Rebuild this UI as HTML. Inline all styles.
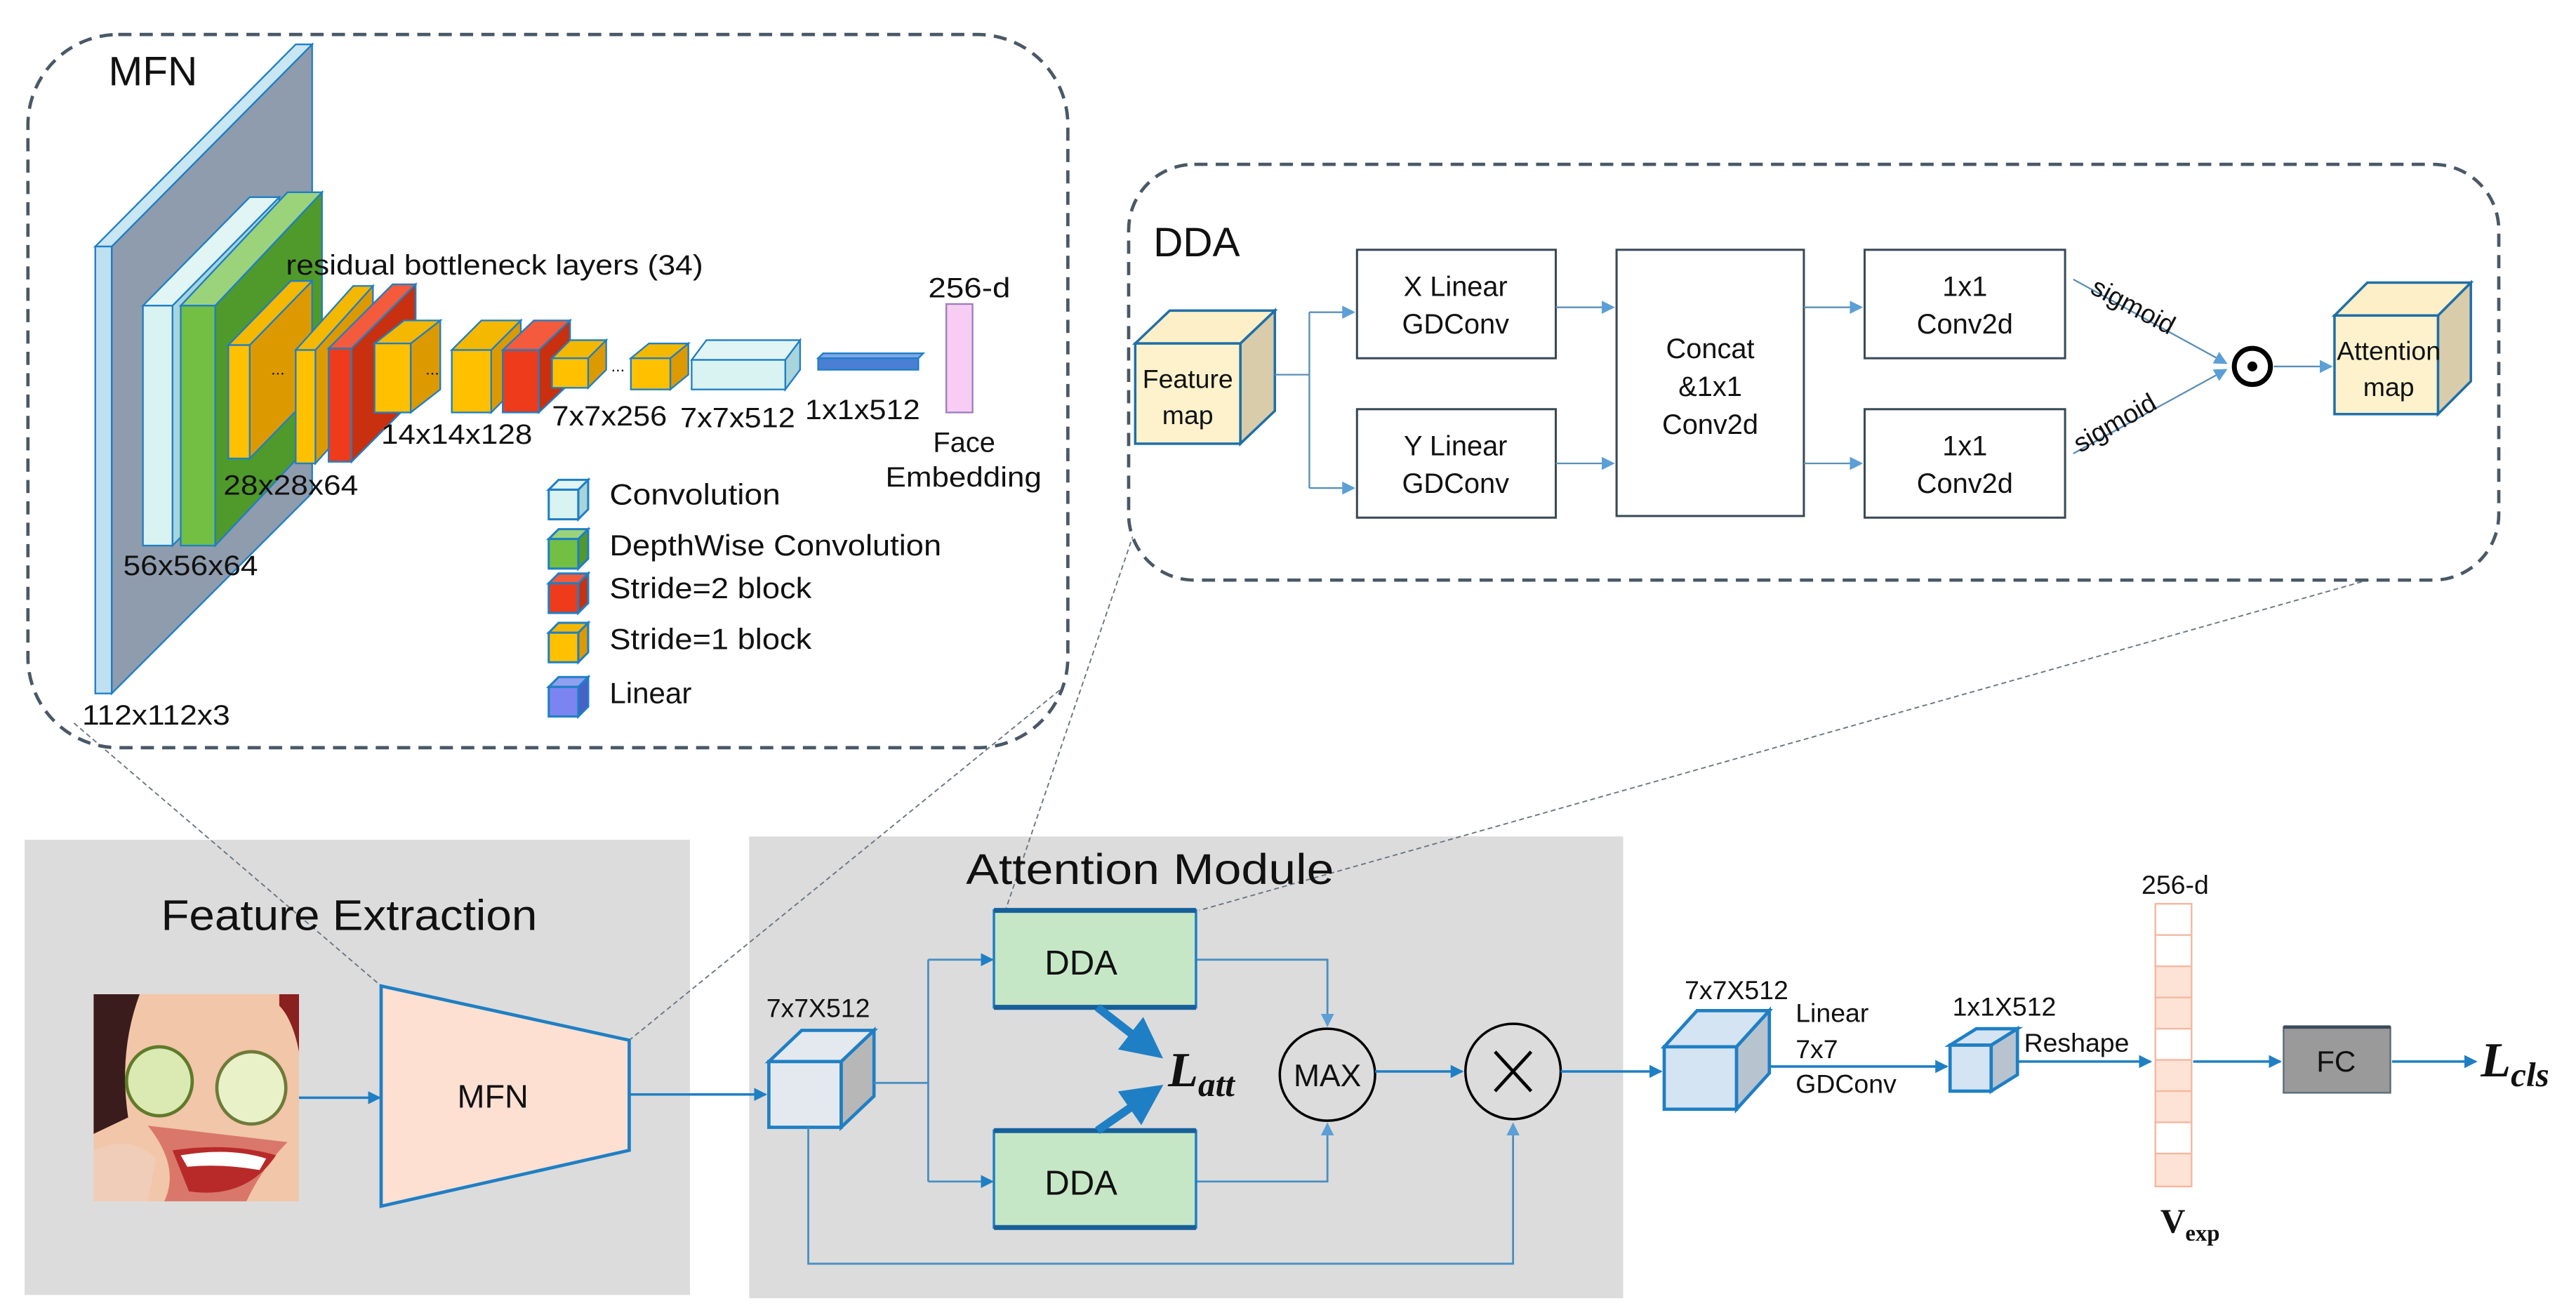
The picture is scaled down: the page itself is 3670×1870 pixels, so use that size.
<!DOCTYPE html>
<html><head><meta charset="utf-8"><style>
html,body{margin:0;padding:0;background:#fff;}
svg{display:block;}
text{font-family:"Liberation Sans","DejaVu Sans",sans-serif;fill:#111;}
text.serif{font-family:"Liberation Serif","DejaVu Serif",serif;}
</style></head><body>
<svg width="3670" height="1870" viewBox="0 0 1568 799" preserveAspectRatio="none" xmlns="http://www.w3.org/2000/svg">
<defs>
<marker id="ar" markerWidth="8" markerHeight="8" refX="7" refY="4" orient="auto" markerUnits="userSpaceOnUse"><path d="M0,0 L8,4 L0,8 Z" fill="#1f7fc4"/></marker>
<marker id="arl" markerWidth="8" markerHeight="8" refX="7" refY="4" orient="auto" markerUnits="userSpaceOnUse"><path d="M0,0 L8,4 L0,8 Z" fill="#5b9fd6"/></marker>
<marker id="arb" markerWidth="5" markerHeight="5" refX="4" refY="2.5" orient="auto"><path d="M0,0 L5,2.5 L0,5 Z" fill="#1f7fc4"/></marker>
</defs>
<rect width="1568" height="799" fill="#fff"/>

<rect x="15" y="511" width="405" height="277" fill="#dcdcdc"/>
<rect x="456" y="509" width="532" height="281" fill="#dcdcdc"/>

<g stroke="#6a7580" stroke-width="0.8" stroke-dasharray="3,2" fill="none">
<line x1="45" y1="440" x2="232" y2="600"/>
<line x1="645" y1="420" x2="383" y2="633"/>
<line x1="690" y1="325" x2="612" y2="554"/>
<line x1="1505" y1="335" x2="730" y2="554"/>
</g>

<rect x="17" y="21" width="633" height="434" rx="55" fill="none" stroke="#4a5866" stroke-width="2" stroke-dasharray="8,5"/>
<text x="66" y="52" font-size="25">MFN</text>

<g stroke="#1f7fc4" stroke-width="1">
<polygon points="68,150 190,27 190,300 68,422" fill="#8f9cad"/>
<polygon points="58,150 180,27 190,27 68,150" fill="#c9e6f3"/>
<rect x="58" y="150" width="10" height="272" fill="#bfe0f0"/>
<polygon points="105,186 170,120 170,266 105,332" fill="#a8d4dc"/>
<polygon points="87,186 152,120 170,120 105,186" fill="#e2f5f5"/>
<rect x="87" y="186" width="18" height="146" fill="#d9f2f2"/>
<polygon points="131,186 196,117 196,263 131,332" fill="#4f9a2a"/>
<polygon points="110,186 175,117 196,117 131,186" fill="#9bd37a"/>
<rect x="110" y="186" width="21" height="146" fill="#72bf44"/>
</g>
<g stroke="#1f7fc4" stroke-width="1">
<polygon points="152,210 190,171 190,240 152,279" fill="#dd9a00"/>
<polygon points="139,210 177,171 190,171 152,210" fill="#f5b800"/>
<rect x="139" y="210" width="13" height="69" fill="#ffc000"/>
<polygon points="192,213 227,174 227,243 192,282" fill="#dd9a00"/>
<polygon points="180,213 215,174 227,174 192,213" fill="#f5b800"/>
<rect x="180" y="213" width="12" height="69" fill="#ffc000"/>
<polygon points="214,212 253,173 253,242 214,281" fill="#c8300f"/>
<polygon points="200,212 239,173 253,173 214,212" fill="#f45a3c"/>
<rect x="200" y="212" width="14" height="69" fill="#ee3b1c"/>
<polygon points="250,209 268,195 268,237 250,251" fill="#dd9a00"/>
<polygon points="228,209 246,195 268,195 250,209" fill="#f5b800"/>
<rect x="228" y="209" width="22" height="42" fill="#ffc000"/>
<polygon points="299,213 317,195 317,233 299,251" fill="#dd9a00"/>
<polygon points="275,213 293,195 317,195 299,213" fill="#f5b800"/>
<rect x="275" y="213" width="24" height="38" fill="#ffc000"/>
<polygon points="328,213 347,195 347,233 328,251" fill="#c8300f"/>
<polygon points="306,213 325,195 347,195 328,213" fill="#f45a3c"/>
<rect x="306" y="213" width="22" height="38" fill="#ee3b1c"/>
<polygon points="358,218 369,207 369,225 358,236" fill="#dd9a00"/>
<polygon points="336,218 347,207 369,207 358,218" fill="#f5b800"/>
<rect x="336" y="218" width="22" height="18" fill="#ffc000"/>
<polygon points="408,218 419,209 419,228 408,237" fill="#dd9a00"/>
<polygon points="384,218 395,209 419,209 408,218" fill="#f5b800"/>
<rect x="384" y="218" width="24" height="19" fill="#ffc000"/>
<polygon points="478,219 487,207 487,225 478,237" fill="#a8d4dc"/>
<polygon points="421,219 430,207 487,207 478,219" fill="#e2f5f5"/>
<rect x="421" y="219" width="57" height="18" fill="#d9f2f2"/>
<polygon points="498,218 501,215 562,215 559,218" fill="#7ea6e8"/>
<rect x="498" y="218" width="61" height="7" fill="#4a7fd4"/>
</g>
<rect x="576" y="185" width="16" height="66" fill="#f7cdf3" stroke="#9a7fbf" stroke-width="1"/>
<g font-size="10"><text x="165" y="228">...</text><text x="259" y="228">...</text><text x="372" y="226">...</text></g>
<g font-size="17">
<text x="174" y="167" textLength="254" lengthAdjust="spacingAndGlyphs">residual bottleneck layers (34)</text>
<text x="565" y="181" textLength="50" lengthAdjust="spacingAndGlyphs">256-d</text>
<text x="136" y="301" textLength="82" lengthAdjust="spacingAndGlyphs">28x28x64</text>
<text x="232" y="270" textLength="92" lengthAdjust="spacingAndGlyphs">14x14x128</text>
<text x="336" y="259" textLength="70" lengthAdjust="spacingAndGlyphs">7x7x256</text>
<text x="414" y="260" textLength="70" lengthAdjust="spacingAndGlyphs">7x7x512</text>
<text x="490" y="255" textLength="70" lengthAdjust="spacingAndGlyphs">1x1x512</text>
<text x="568" y="275">Face</text>
<text x="539" y="296" textLength="95" lengthAdjust="spacingAndGlyphs">Embedding</text>
<text x="75" y="350" textLength="82" lengthAdjust="spacingAndGlyphs">56x56x64</text>
<text x="50" y="441" textLength="90" lengthAdjust="spacingAndGlyphs">112x112x3</text>
</g>
<g stroke="#1f7fc4" stroke-width="1.3">
<g transform="translate(334,292)"><polygon points="18,6 24,0 24,18 18,24" fill="#a8d4dc"/><polygon points="0,6 6,0 24,0 18,6" fill="#e2f5f5"/><rect x="0" y="6" width="18" height="18" fill="#d9f2f2"/></g>
<g transform="translate(334,322)"><polygon points="18,6 24,0 24,18 18,24" fill="#4f9a2a"/><polygon points="0,6 6,0 24,0 18,6" fill="#9bd37a"/><rect x="0" y="6" width="18" height="18" fill="#72bf44"/></g>
<g transform="translate(334,349)"><polygon points="18,6 24,0 24,18 18,24" fill="#c8300f"/><polygon points="0,6 6,0 24,0 18,6" fill="#f45a3c"/><rect x="0" y="6" width="18" height="18" fill="#ee3b1c"/></g>
<g transform="translate(334,379)"><polygon points="18,6 24,0 24,18 18,24" fill="#dd9a00"/><polygon points="0,6 6,0 24,0 18,6" fill="#f5b800"/><rect x="0" y="6" width="18" height="18" fill="#ffc000"/></g>
<g transform="translate(334,412)"><polygon points="18,6 24,0 24,18 18,24" fill="#4a5fc8"/><polygon points="0,6 6,0 24,0 18,6" fill="#8fa0f0"/><rect x="0" y="6" width="18" height="18" fill="#7b84f0"/></g>
</g>
<g font-size="18">
<text x="371" y="307" textLength="104" lengthAdjust="spacingAndGlyphs">Convolution</text>
<text x="371" y="338" textLength="202" lengthAdjust="spacingAndGlyphs">DepthWise Convolution</text>
<text x="371" y="364" textLength="123" lengthAdjust="spacingAndGlyphs">Stride=2 block</text>
<text x="371" y="395" textLength="123" lengthAdjust="spacingAndGlyphs">Stride=1 block</text>
<text x="371" y="428" textLength="50" lengthAdjust="spacingAndGlyphs">Linear</text>
</g>

<rect x="687" y="100" width="834" height="253" rx="40" fill="#fff" stroke="#4a5866" stroke-width="2" stroke-dasharray="8,5"/>
<text x="702" y="156" font-size="25">DDA</text>
<g stroke="#1f6fa8" stroke-width="1.5">
<polygon points="755,209 776,189 776,250 755,270" fill="#d8ccaa"/>
<polygon points="691,209 712,189 776,189 755,209" fill="#fdf0c8"/>
<rect x="691" y="209" width="64" height="61" fill="#fdf2cc"/>
<polygon points="1484,192 1504,172 1504,232 1484,252" fill="#d8ccaa"/>
<polygon points="1421,192 1441,172 1504,172 1484,192" fill="#fdf0c8"/>
<rect x="1421" y="192" width="63" height="60" fill="#fdf2cc"/>
</g>
<text x="723" y="236" font-size="16" text-anchor="middle">Feature</text>
<text x="723" y="258" font-size="16" text-anchor="middle">map</text>
<text x="1454" y="219" font-size="16" text-anchor="middle">Attention</text>
<text x="1454" y="241" font-size="16" text-anchor="middle">map</text>
<g fill="#fff" stroke="#3a4a56" stroke-width="1.3">
<rect x="826" y="152" width="121" height="66"/>
<rect x="826" y="249" width="121" height="66"/>
<rect x="984" y="152" width="114" height="162"/>
<rect x="1135" y="152" width="122" height="66"/>
<rect x="1135" y="249" width="122" height="66"/>
</g>
<g font-size="17" text-anchor="middle">
<text x="886" y="180">X Linear</text><text x="886" y="203">GDConv</text>
<text x="886" y="277">Y Linear</text><text x="886" y="300">GDConv</text>
<text x="1041" y="218">Concat</text><text x="1041" y="241">&amp;1x1</text><text x="1041" y="264">Conv2d</text>
<text x="1196" y="180">1x1</text><text x="1196" y="203">Conv2d</text>
<text x="1196" y="277">1x1</text><text x="1196" y="300">Conv2d</text>
</g>
<g stroke="#5b8fb5" stroke-width="1" fill="none">
<polyline points="776,228 797,228"/>
<polyline points="797,190 797,297"/>
<line x1="797" y1="190" x2="824" y2="190" marker-end="url(#arl)"/>
<line x1="797" y1="297" x2="824" y2="297" marker-end="url(#arl)"/>
<line x1="947" y1="187" x2="982" y2="187" marker-end="url(#arl)"/>
<line x1="947" y1="282" x2="982" y2="282" marker-end="url(#arl)"/>
<line x1="1098" y1="187" x2="1133" y2="187" marker-end="url(#arl)"/>
<line x1="1098" y1="282" x2="1133" y2="282" marker-end="url(#arl)"/>
<line x1="1262" y1="170" x2="1355" y2="221" marker-end="url(#arl)"/>
<line x1="1262" y1="276" x2="1355" y2="225" marker-end="url(#arl)"/>
<line x1="1384" y1="223" x2="1419" y2="223" marker-end="url(#arl)"/>
</g>
<circle cx="1371" cy="223" r="11" fill="#fff" stroke="#000" stroke-width="3"/>
<circle cx="1371" cy="223" r="3" fill="#000"/>
<text x="1296" y="191" font-size="16" transform="rotate(28 1296 191)" text-anchor="middle">sigmoid</text>
<text x="1290" y="262" font-size="16" transform="rotate(-30 1290 262)" text-anchor="middle">sigmoid</text>

<text x="98" y="566" font-size="26" textLength="229" lengthAdjust="spacingAndGlyphs">Feature Extraction</text>
<text x="588" y="538" font-size="26" textLength="224" lengthAdjust="spacingAndGlyphs">Attention Module</text>

<rect x="57" y="605" width="125" height="126" fill="#f2c6a8"/>
<path d="M57,605 L85,605 Q72,640 78,680 L57,690 Z" fill="#3a1c1c"/>
<path d="M170,605 L182,605 L182,640 Q178,620 170,612 Z" fill="#8a2020"/>
<ellipse cx="97" cy="658" rx="20" ry="21" fill="#dbe9b2" stroke="#5f7a2a" stroke-width="2"/>
<ellipse cx="153" cy="662" rx="21" ry="22" fill="#e8f1c8" stroke="#6f7a3a" stroke-width="2"/>
<path d="M90,685 Q110,710 100,731 L150,731 Q160,710 175,695 Z" fill="#d9786a"/>
<path d="M105,700 Q140,695 168,703 Q150,730 115,725 Z" fill="#b82a2a"/>
<path d="M110,703 Q140,698 162,705 L158,712 Q135,708 114,710 Z" fill="#fff"/>
<path d="M57,700 Q80,690 95,705 L90,731 L57,731 Z" fill="#f0cdb8"/>

<polygon points="232,600 383,633 383,700 232,734" fill="#fde0d2" stroke="#1f7fc4" stroke-width="2"/>
<text x="300" y="674" font-size="20" text-anchor="middle">MFN</text>

<g stroke="#1f7fc4" stroke-width="1.5" fill="none">
<line x1="182" y1="668" x2="231" y2="668" marker-end="url(#ar)"/>
<line x1="383" y1="666" x2="466" y2="666" marker-end="url(#ar)"/>
</g>

<g stroke="#1f7fc4" stroke-width="2">
<polygon points="512,646 532,627 532,667 512,686" fill="#b7b7b7"/>
<polygon points="468,646 488,627 532,627 512,646" fill="#e4e9ef"/>
<rect x="468" y="646" width="44" height="40" fill="#e4e9ef"/>
</g>
<text x="498" y="619" font-size="16" text-anchor="middle">7x7X512</text>

<g stroke="#4a8fc0" stroke-width="1.2" fill="none">
<line x1="532" y1="659" x2="565" y2="659"/>
<line x1="565" y1="584" x2="565" y2="719"/>
<line x1="565" y1="584" x2="604" y2="584" marker-end="url(#ar)"/>
<line x1="565" y1="719" x2="604" y2="719" marker-end="url(#ar)"/>
<polyline points="728,584 808,584 808,624" marker-end="url(#arl)"/>
<polyline points="728,719 808,719 808,684" marker-end="url(#arl)"/>
<polyline points="492,686 492,769 921,769 921,684" marker-end="url(#arl)"/>
</g>
<g>
<rect x="605" y="554" width="123" height="59" fill="#c6e7c6" stroke="#1f7fc4" stroke-width="1.5"/>
<line x1="605" y1="554" x2="728" y2="554" stroke="#16609a" stroke-width="3"/>
<line x1="605" y1="613" x2="728" y2="613" stroke="#16609a" stroke-width="3"/>
<rect x="605" y="688" width="123" height="59" fill="#c6e7c6" stroke="#1f7fc4" stroke-width="1.5"/>
<line x1="605" y1="688" x2="728" y2="688" stroke="#16609a" stroke-width="3"/>
<line x1="605" y1="747" x2="728" y2="747" stroke="#16609a" stroke-width="3"/>
</g>
<text x="658" y="593" font-size="21" text-anchor="middle">DDA</text>
<text x="658" y="727" font-size="21" text-anchor="middle">DDA</text>
<g stroke="#1f7fc4" stroke-width="5" fill="none">
<line x1="668" y1="613" x2="704" y2="641" marker-end="url(#arb)"/>
<line x1="668" y1="688" x2="704" y2="663" marker-end="url(#arb)"/>
</g>
<text class="serif" x="711" y="661" font-size="30" font-weight="bold" font-style="italic">L<tspan font-size="21" dy="6">att</tspan></text>

<ellipse cx="808" cy="654" rx="29" ry="28" fill="none" stroke="#000" stroke-width="1.5"/>
<text x="808" y="661" font-size="19" text-anchor="middle">MAX</text>
<circle cx="921" cy="652" r="29" fill="none" stroke="#000" stroke-width="1.5"/>
<g stroke="#000" stroke-width="2"><line x1="910" y1="640" x2="932" y2="664"/><line x1="932" y1="640" x2="910" y2="664"/></g>

<g stroke="#1f7fc4" stroke-width="1.5" fill="none">
<line x1="837" y1="652" x2="890" y2="652" marker-end="url(#ar)"/>
<line x1="950" y1="652" x2="1011" y2="652" marker-end="url(#ar)"/>
<line x1="1077" y1="649" x2="1185" y2="649" marker-end="url(#ar)"/>
<line x1="1228" y1="646" x2="1309" y2="646" marker-end="url(#ar)"/>
<line x1="1335" y1="646" x2="1388" y2="646" marker-end="url(#ar)"/>
<line x1="1456" y1="646" x2="1507" y2="646" marker-end="url(#ar)"/>
</g>

<g stroke="#1f7fc4" stroke-width="2">
<polygon points="1057,637 1077,615 1077,653 1057,675" fill="#b7c4d0"/>
<polygon points="1013,637 1033,615 1077,615 1057,637" fill="#d4e4f2"/>
<rect x="1013" y="637" width="44" height="38" fill="#d4e4f2"/>
</g>
<text x="1057" y="608" font-size="16" text-anchor="middle">7x7X512</text>
<g font-size="16"><text x="1093" y="622">Linear</text><text x="1093" y="644">7x7</text><text x="1093" y="665">GDConv</text></g>
<g stroke="#1f7fc4" stroke-width="2">
<polygon points="1212,636 1228,626 1228,654 1212,664" fill="#b7c4d0"/>
<polygon points="1187,636 1203,626 1228,626 1212,636" fill="#d4e4f2"/>
<rect x="1187" y="636" width="25" height="28" fill="#d4e4f2"/>
</g>
<text x="1220" y="618" font-size="16" text-anchor="middle">1x1X512</text>
<text x="1232" y="640" font-size="16">Reshape</text>

<g stroke="#f5b7a0" stroke-width="1">
<rect x="1312" y="550" width="22" height="172" fill="#fff"/>
<rect x="1312" y="550" width="22" height="19" fill="#fff"/>
<rect x="1312" y="569" width="22" height="19" fill="#fff"/>
<rect x="1312" y="588" width="22" height="19" fill="#fde3d6"/>
<rect x="1312" y="607" width="22" height="19" fill="#fde3d6"/>
<rect x="1312" y="626" width="22" height="19" fill="#fff"/>
<rect x="1312" y="645" width="22" height="19" fill="#fde3d6"/>
<rect x="1312" y="664" width="22" height="19" fill="#fde3d6"/>
<rect x="1312" y="683" width="22" height="19" fill="#fff"/>
<rect x="1312" y="702" width="22" height="20" fill="#fde3d6"/>
</g>
<text x="1324" y="544" font-size="16" text-anchor="middle">256-d</text>
<text class="serif" x="1315" y="750" font-size="21" font-weight="bold">V<tspan font-size="14" dy="5">exp</tspan></text>

<rect x="1390" y="625" width="65" height="40" fill="#9a9a9a" stroke="#5a6a78" stroke-width="1"/>
<line x1="1390" y1="625" x2="1455" y2="625" stroke="#3a4a5a" stroke-width="2"/>
<text x="1422" y="652" font-size="18" text-anchor="middle">FC</text>
<text class="serif" x="1510" y="655" font-size="30" font-weight="bold" font-style="italic">L<tspan font-size="21" dy="6">cls</tspan></text>
</svg>
</body></html>
